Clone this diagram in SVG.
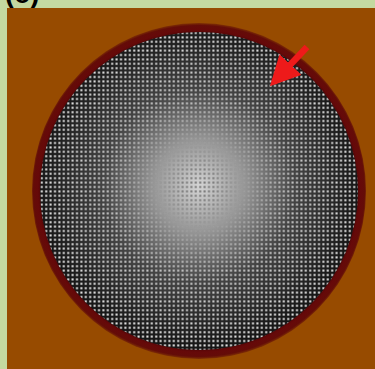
<svg xmlns="http://www.w3.org/2000/svg" width="375" height="369" viewBox="0 0 375 369">
<style>
.lbl{font-family:"Liberation Sans",Arial,sans-serif;font-weight:bold;font-size:28px;fill:#000}
</style>
<defs>
<radialGradient id="base" cx="199" cy="186" r="160" gradientUnits="userSpaceOnUse">
<stop offset="0" stop-color="#d4d4d4"/>
<stop offset="0.3" stop-color="#939393"/>
<stop offset="0.6" stop-color="#444"/>
<stop offset="1" stop-color="#161616"/>
</radialGradient>
<radialGradient id="edgeMask" cx="199" cy="186" r="160" gradientUnits="userSpaceOnUse">
<stop offset="0.1" stop-color="#000"/>
<stop offset="0.55" stop-color="#bbb"/>
<stop offset="1" stop-color="#fff"/>
</radialGradient>
<radialGradient id="centerMask" cx="199" cy="186" r="160" gradientUnits="userSpaceOnUse">
<stop offset="0" stop-color="#fff"/>
<stop offset="0.5" stop-color="#555"/>
<stop offset="0.8" stop-color="#000"/>
</radialGradient>
<radialGradient id="ring" cx="199" cy="191" r="168" gradientUnits="userSpaceOnUse">
<stop offset="0.93" stop-color="#4a0505"/>
<stop offset="0.96" stop-color="#660909"/>
<stop offset="0.985" stop-color="#640c08"/>
<stop offset="1" stop-color="#7e3004"/>
</radialGradient>
<pattern id="wdots" x="0" y="0" width="4.4" height="4.4" patternUnits="userSpaceOnUse">
<rect x="1.2" y="1.2" width="2" height="2" fill="#f0f0f0"/>
</pattern>
<pattern id="gdots" x="0" y="0" width="4.4" height="4.4" patternUnits="userSpaceOnUse">
<rect x="1.2" y="1.2" width="2" height="2" fill="#707070"/>
</pattern>
<mask id="me"><rect width="375" height="369" fill="url(#edgeMask)"/></mask>
<mask id="mc"><rect width="375" height="369" fill="url(#centerMask)"/></mask>
<marker id="ah" viewBox="0 0 10 10" refX="8" refY="5" markerWidth="4.6" markerHeight="4.6" orient="auto" markerUnits="strokeWidth">
<path d="M0,0 L10,5 L0,10 Z" fill="#ee1a1a"/>
</marker>
</defs>
<rect width="375" height="369" fill="#c4d9a0"/>
<text class="lbl" x="5" y="3">(c)</text>
<rect x="7" y="8" width="368" height="361" fill="#974b00"/>
<g id="disc">
<ellipse cx="199" cy="191" rx="167" ry="168" fill="url(#ring)"/>
<ellipse cx="199" cy="191" rx="159" ry="159" fill="url(#base)"/>
<ellipse cx="199" cy="191" rx="159" ry="159" fill="url(#gdots)" mask="url(#mc)"/>
<ellipse cx="199" cy="191" rx="159" ry="159" fill="url(#wdots)" mask="url(#me)"/>
</g>
<g id="connectors">
<line x1="307" y1="47" x2="274" y2="82" stroke="#ee1a1a" stroke-width="6.5" marker-end="url(#ah)"/>
</g>
</svg>
